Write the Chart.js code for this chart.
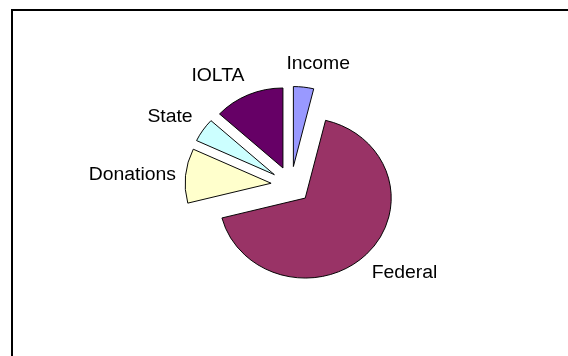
<!DOCTYPE html>
<html>
<head>
<meta charset="utf-8">
<script src="https://cdn.jsdelivr.net/npm/chart.js@4.4.0/dist/chart.umd.min.js"></script>
<style>
html,body{margin:0;padding:0;background:#fff;overflow:hidden}
#wrap{position:relative;width:568px;height:356px;overflow:hidden}
#frame{position:absolute;left:11px;top:9px;width:620px;height:420px;border:2px solid #000}
canvas{position:absolute;left:0;top:0}
</style>
</head>
<body>
<div id="wrap">
<div id="frame"></div>
<canvas id="fundingChart" width="568" height="356"></canvas>
</div>
<script>
const sources = ["Income","Federal","Donations","State","IOLTA"]
const shares = [3.8,67.2,11.0,4.8,13.2]
const sliceColors = ["#9999FF","#993366","#FFFFCC","#CCFFFF","#660066"]

// the original picture is a bit squashed vertically
const squash = 0.93
const explode = 20
const labelGap = 13
const labelShift = [[13,-7],[-4,3],[3.5,-1],[0.5,-2],[1.5,-3]]
const fontPx = 19.4

const squashPlugin = {
id:"squash",
beforeDraw(chart){
const ctx = chart.ctx
const midY = (chart.chartArea.top+chart.chartArea.bottom)/2
ctx.save()
ctx.translate(0,midY)
ctx.scale(1,squash)
ctx.translate(0,-midY)
},
afterDraw(chart){
chart.ctx.restore()
}
}

const explodePlugin = {
id:"explode",
afterDatasetsUpdate(chart){
const meta = chart.getDatasetMeta(0)
meta.data.forEach(arc=>{
const mid = (arc.startAngle+arc.endAngle)/2
arc.x += Math.cos(mid)*explode
arc.y += Math.sin(mid)*explode
})
}
}

const labelPlugin = {
id:"sliceLabels",
afterDatasetsDraw(chart){
const ctx = chart.ctx
const meta = chart.getDatasetMeta(0)
const capH = fontPx*0.716
ctx.save()
ctx.font = fontPx+'px "Liberation Sans", Arial, sans-serif'
ctx.fillStyle = "#000"
ctx.textBaseline = "alphabetic"
meta.data.forEach((arc,i)=>{
const mid = (arc.startAngle+arc.endAngle)/2
const c = Math.cos(mid)
const s = Math.sin(mid)
const r = arc.outerRadius+labelGap
const x = arc.x+c*r+labelShift[i][0]
let y = arc.y+s*r+labelShift[i][1]
if(c>0.15) ctx.textAlign = "left"
else if(c<-0.15) ctx.textAlign = "right"
else ctx.textAlign = "center"
if(s>0.3) y += capH
else if(s>=-0.3) y += capH/2
ctx.fillText(chart.data.labels[i],x,y)
})
ctx.restore()
}
}

const ctx = document.getElementById("fundingChart")

new Chart(ctx,{
type:"pie",
data:{
labels:sources,
datasets:[{
data:shares,
backgroundColor:sliceColors,
borderColor:"#000",
borderWidth:1,
borderJoinStyle:"miter",
radius:86
}]
},
options:{
responsive:false,
animation:false,
layout:{padding:{left:14,top:14,right:0,bottom:0}},
plugins:{
legend:{display:false},
tooltip:{enabled:false}
}
},
plugins:[squashPlugin,explodePlugin,labelPlugin]
})
</script>
</body>
</html>
